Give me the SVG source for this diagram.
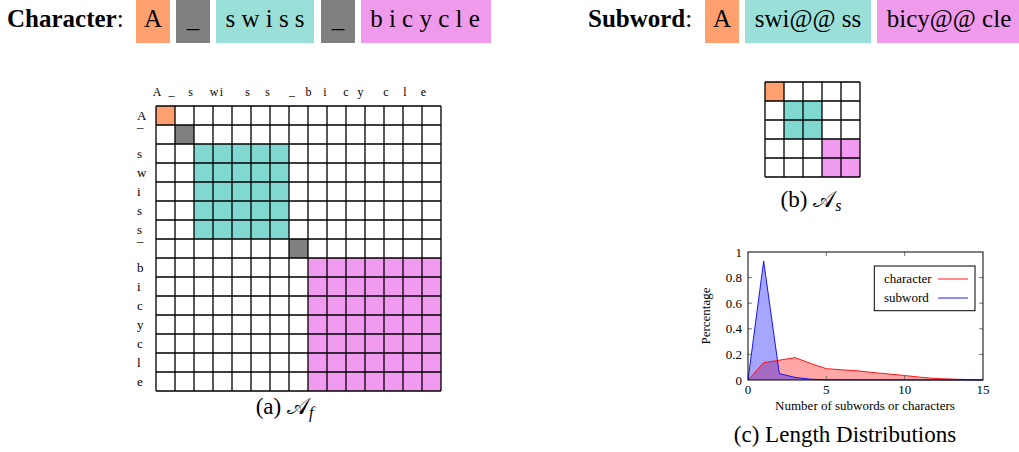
<svg xmlns="http://www.w3.org/2000/svg" width="1019" height="452" viewBox="0 0 1019 452">
<style>
text{font-family:"Liberation Serif","DejaVu Serif",serif;fill:#000}
.hdr{font-size:25px}
.bold{font-weight:bold}
.mid{text-anchor:middle}
.end{text-anchor:end}
.cl{font-size:12px;text-anchor:middle}
.rl{font-size:13px}
.cap{font-size:23px;text-anchor:middle}
.tk{font-size:13px}
.grid{fill:none;stroke:#000;stroke-width:1.3}
.tick{stroke:#555;stroke-width:0.8}
.or{fill:#FFA06E}.gr{fill:#808080}.teH{fill:#9BE0D8}.piH{fill:#F09AEC}
.te{fill:#80D8D0}.pi{fill:#F09AF0}
</style>
<g id="header-character">
<text class="hdr" x="7" y="27"><tspan class="bold">Character</tspan>:</text>
<rect class="or" x="136" y="0" width="34" height="43"/>
<text class="hdr mid" x="153" y="27">A</text>
<rect class="gr" x="176" y="0" width="34" height="43"/>
<text class="hdr mid" x="193" y="27">_</text>
<rect class="teH" x="216" y="0" width="98" height="43"/>
<text class="hdr mid" x="265" y="27">s w i s s</text>
<rect class="gr" x="321" y="0" width="34" height="43"/>
<text class="hdr mid" x="338" y="27">_</text>
<rect class="piH" x="361" y="0" width="130" height="43"/>
<text class="hdr mid" x="425" y="27">b i c y c l e</text>
</g>
<g id="header-subword">
<text class="hdr" x="588" y="27"><tspan class="bold">Subword</tspan>:</text>
<rect class="or" x="705" y="0" width="34" height="43"/>
<text class="hdr mid" x="722" y="27">A</text>
<rect class="teH" x="745" y="0" width="126" height="43"/>
<text class="hdr mid" x="808" y="27">swi@@ ss</text>
<rect class="piH" x="877" y="0" width="142" height="43"/>
<text class="hdr mid" x="949" y="27">bicy@@ cle</text>
</g>
<g id="matrix-full">
<g id="col-labels">
<text class="cl" x="157" y="96">A</text>
<text class="cl" x="171.5" y="95">_</text>
<text class="cl" x="190.5" y="96">s</text>
<text class="cl" x="214" y="96">w</text>
<text class="cl" x="221.5" y="96">i</text>
<text class="cl" x="247.5" y="96">s</text>
<text class="cl" x="267.5" y="96">s</text>
<text class="cl" x="292" y="95">_</text>
<text class="cl" x="308.5" y="96">b</text>
<text class="cl" x="325" y="96">i</text>
<text class="cl" x="346" y="96">c</text>
<text class="cl" x="360.5" y="96">y</text>
<text class="cl" x="386" y="96">c</text>
<text class="cl" x="405" y="96">l</text>
<text class="cl" x="423.5" y="96">e</text>
</g>
<g id="row-labels">
<text class="rl" x="137" y="120">A</text>
<text class="rl" x="137" y="127">_</text>
<text class="rl" x="137" y="157.5">s</text>
<text class="rl" x="137" y="176.5">w</text>
<text class="rl" x="137" y="195.5">i</text>
<text class="rl" x="137" y="214.5">s</text>
<text class="rl" x="137" y="233.5">s</text>
<text class="rl" x="137" y="240.5">_</text>
<text class="rl" x="137" y="271.5">b</text>
<text class="rl" x="137" y="290.5">i</text>
<text class="rl" x="137" y="309.5">c</text>
<text class="rl" x="137" y="328.5">y</text>
<text class="rl" x="137" y="347.5">c</text>
<text class="rl" x="137" y="366.5">l</text>
<text class="rl" x="137" y="385.5">e</text>
</g>
<rect class="or" x="156" y="106" width="19" height="19"/>
<rect class="gr" x="175" y="125" width="19" height="19"/>
<rect class="te" x="194" y="144" width="95" height="95"/>
<rect class="gr" x="289" y="239" width="19" height="19"/>
<rect class="pi" x="308" y="258" width="133" height="133"/>
<path class="grid" d="M156 106V391M175 106V391M194 106V391M213 106V391M232 106V391M251 106V391M270 106V391M289 106V391M308 106V391M327 106V391M346 106V391M365 106V391M384 106V391M403 106V391M422 106V391M441 106V391M156 106H441M156 125H441M156 144H441M156 163H441M156 182H441M156 201H441M156 220H441M156 239H441M156 258H441M156 277H441M156 296H441M156 315H441M156 334H441M156 353H441M156 372H441M156 391H441"/>
<text class="cap" x="284.5" y="413.5">(a) 𝒜<tspan font-style="italic" font-size="16" dy="4">f</tspan></text>
</g>
<g id="matrix-subword">
<rect class="or" x="765" y="82" width="19" height="19"/>
<rect class="te" x="784" y="101" width="38" height="38"/>
<rect class="pi" x="822" y="139" width="38" height="38"/>
<path class="grid" d="M765 82V177M784 82V177M803 82V177M822 82V177M841 82V177M860 82V177M765 82H860M765 101H860M765 120H860M765 139H860M765 158H860M765 177H860"/>
<text class="cap" x="811" y="206.5">(b) 𝒜<tspan font-style="italic" font-size="16" dy="4">s</tspan></text>
</g>
<g id="chart">
<polygon points="748,380 763.67,362.7 779.33,360.2 795,357.6 810.67,363.4 826.33,368.7 842,369.8 857.67,370.8 873.33,372.6 889,374 904.67,375.5 920.33,377.2 936,378.5 951.67,379.1 967.33,379.6 983,379.9 983,380" fill="#ff0000" fill-opacity="0.35"/>
<polygon points="748,380 763.67,261 779.33,373.6 795,377.4 810.67,379.2 826.33,379.8 983,380" fill="#0000ff" fill-opacity="0.35"/>
<polyline points="748,380 763.67,362.7 779.33,360.2 795,357.6 810.67,363.4 826.33,368.7 842,369.8 857.67,370.8 873.33,372.6 889,374 904.67,375.5 920.33,377.2 936,378.5 951.67,379.1 967.33,379.6 983,379.9" fill="none" stroke="#ff0000" stroke-width="0.9"/>
<polyline points="748,380 763.67,261 779.33,373.6 795,377.4 810.67,379.2 826.33,379.8 983,380" fill="none" stroke="#0000ff" stroke-width="0.9"/>
<path class="tick" d="M748 354.4h4M748 328.8h4M748 303.2h4M748 277.6h4M983 354.4h-4M983 328.8h-4M983 303.2h-4M983 277.6h-4M826.33 380v-4M904.67 380v-4M826.33 252v4M904.67 252v4"/>
<rect x="748" y="252" width="235" height="128" fill="none" stroke="#000" stroke-width="1"/>
<text class="tk end" x="742" y="384.5">0</text>
<text class="tk end" x="742" y="358.8">0.2</text>
<text class="tk end" x="742" y="333.2">0.4</text>
<text class="tk end" x="742" y="307.6">0.6</text>
<text class="tk end" x="742" y="282">0.8</text>
<text class="tk end" x="742" y="256.5">1</text>
<text class="tk mid" x="748" y="393.5">0</text>
<text class="tk mid" x="826.33" y="393.5">5</text>
<text class="tk mid" x="904.67" y="393.5">10</text>
<text class="tk mid" x="983" y="393.5">15</text>
<text class="tk mid" x="865" y="409.5">Number of subwords or characters</text>
<text class="tk mid" transform="translate(710,316) rotate(-90)">Percentage</text>
<g id="legend">
<rect x="874.3" y="266" width="100.7" height="44.7" fill="#fff" stroke="#000" stroke-width="1"/>
<text class="tk" x="884" y="282.5">character</text>
<line x1="938" y1="279" x2="968" y2="279" stroke="#ff0000" stroke-width="0.9"/>
<text class="tk" x="884" y="301.5">subword</text>
<line x1="938" y1="298" x2="968" y2="298" stroke="#0000ff" stroke-width="0.9"/>
</g>
<text class="cap" x="845" y="441.5">(c) Length Distributions</text>
</g>
</svg>
